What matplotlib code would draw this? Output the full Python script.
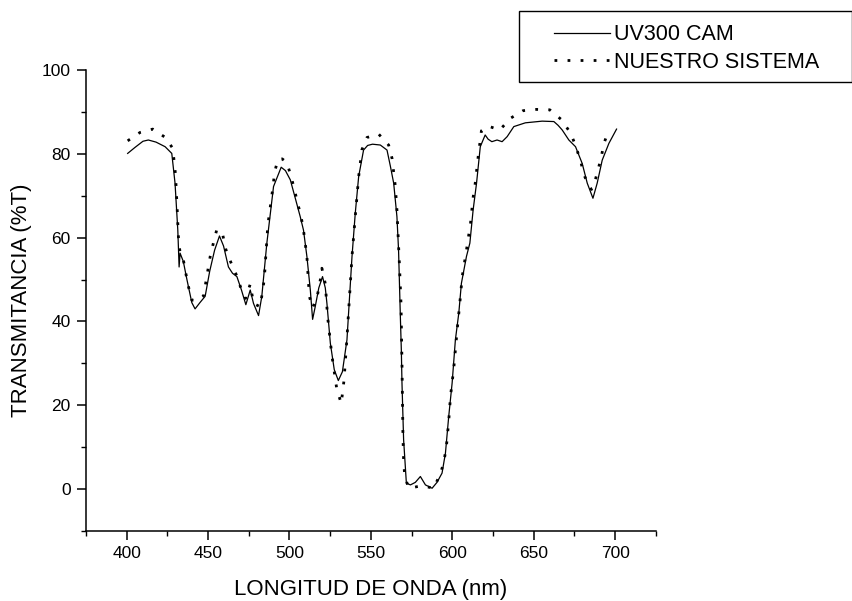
"""Transmittance spectrum: commercial UV300 vs. our system."""

import matplotlib
matplotlib.use("Agg")
import matplotlib.pyplot as plt
from matplotlib.patches import Rectangle
from matplotlib.ticker import MultipleLocator

plt.rcParams["font.family"] = ["Liberation Sans", "DejaVu Sans"]

# UV300 CAM reference curve (wavelength nm, %T)
uv300_nm = [
    400.6, 405, 410, 413.3, 418, 423.6, 427.7, 429.7, 431.4, 432.2, 432.8,
    434.8, 437, 440, 442, 445, 448.2, 451, 454, 457, 459.5, 462.5, 465,
    467.7, 470.5, 473.2, 475.9, 477.9, 481, 483, 486.1, 490.2, 494.9, 497.5,
    500.5, 503.5, 506.6, 508.6, 510.7, 512.8, 514.2, 515.8, 518, 520.3, 522,
    523, 525.1, 527.5, 530, 532.5, 535.3, 538.4, 540.4, 542.5, 545.5, 548,
    551, 555.8, 559.9, 562, 564, 566, 567, 568.1, 568.7, 569.1, 570.1, 571.8,
    574.3, 577.3, 580.4, 583.5, 587.6, 590.6, 593.7, 595.8, 597.8, 599.9,
    601.9, 604, 605.6, 608.7, 610.8, 612.8, 614.9, 617.2, 620.2, 622, 624.3,
    627.5, 630.6, 633.7, 637.8, 644.9, 655.2, 662.4, 665, 667.5, 671.6,
    675.7, 679.8, 682.9, 686.4, 689, 692.1, 696.2, 700.9,
]
uv300_t = [
    80.1, 81.5, 83.0, 83.3, 82.8, 81.7, 80.1, 73, 61.8, 53, 56.3,
    54.3, 50, 44.5, 43, 44.5, 46, 52, 57, 60.4, 58, 53, 51.5,
    50.7, 47.5, 44, 47.5, 44.3, 41.4, 46, 58.7, 72.2, 76.8, 76,
    73.8, 69.5, 65, 61.8, 55.5, 47.5, 40.5, 43.5, 48, 50.7, 48,
    44.3, 34.8, 28.5, 25.9, 28, 35.6, 55.5, 65.8, 74.6, 80.9, 82,
    82.3, 82.1, 80.9, 77, 73, 65, 57, 41.2, 33.2, 25.3, 11.8, 1.4,
    1.0, 1.6, 3.0, 1.0, 0.2, 1.6, 3.8, 8.6, 17.3, 25.3,
    35.6, 42, 49.1, 55.5, 58.7, 66.6, 73, 81.7, 84.5, 83.5, 82.9,
    83.3, 82.9, 84.1, 86.5, 87.4, 87.8, 87.7, 86.8, 85.7, 83.3,
    81.7, 77.7, 73, 69.4, 73, 78.5, 82.5, 85.9,
]

# NUESTRO SISTEMA measurement (wavelength nm, %T)
ours_nm = [
    400.6, 408.2, 416, 423.8, 428.3, 430, 431, 431.8, 432.8, 435, 437.5,
    440, 443.5, 447.2, 451.3, 453.3, 455.4, 459.1, 460.9, 464, 467.7, 470.3,
    473, 475.9, 477.9, 482, 484.5, 486.7, 490, 490.8, 492.9, 495.5, 498.4,
    500.9, 503.1, 505, 507, 508.6, 510.7, 512.2, 514.2, 517.2, 519.3, 519.9,
    522, 523.4, 526, 529, 531.8, 533.5, 535.3, 538.4, 540.4, 542.5, 544.5,
    547.6, 554.8, 560.9, 563, 565, 566, 567.5, 568.5, 569.1, 569.7, 570.1,
    570.8, 573.3, 581.4, 588.6, 592.6, 594.7, 596.4, 597.8, 598.9, 600.9,
    603, 604.6, 606.1, 608.7, 611.2, 612.8, 614.1, 615.9, 617.9, 622.1,
    629.2, 635.8, 643.5, 651.7, 659.9, 666.9, 672.6, 675.8, 679, 680.9,
    683.6, 685.5, 687.3, 689.4, 691.5, 693.1, 696.1,
]
ours_t = [
    83.1, 85.1, 85.9, 83.9, 81.3, 75, 67, 60, 56.3, 54.3, 49,
    45.1, 45, 46.1, 55.5, 58.8, 62, 60.5, 57.2, 54.1, 50.8, 47.8,
    45.5, 48.9, 44.3, 43.5, 50, 63, 72.5, 75.5, 78.7, 78.8, 77.9,
    74.7, 71.4, 68.2, 65.3, 61.8, 55.5, 46, 43.2, 46.3, 50.7, 52.7,
    49, 41.2, 32, 24, 20.4, 26, 36, 55.5, 65, 74.6, 81,
    83.9, 84.7, 82.1, 78.9, 72.3, 66.6, 53.9, 44.3, 30, 12.5, 7,
    3.0, 0.2, 0.8, 0.2, 3.6, 6.2, 10.2, 16.2, 22.1, 28.8,
    38, 44.3, 50.7, 57, 63.4, 69.6, 73, 79.3, 85.5, 86.6,
    85.7, 88.5, 90.3, 90.6, 90.5, 88.2, 85.0, 81.9, 78, 75,
    72.6, 71.5, 73, 76, 79.2, 82.4, 85.7,
]

fig = plt.figure(figsize=(8.53, 6.01), dpi=100)
ax = fig.add_axes([0.1008, 0.1165, 0.668, 0.767])

ax.plot(uv300_nm, uv300_t, color="black", lw=0.9, label="UV300 CAM")
ax.plot(ours_nm, ours_t, color="black", lw=2.0, ls=(0, (1, 3.7)),
        label="NUESTRO SISTEMA")

ax.set_xlim(375, 725)
ax.set_ylim(-10, 100)
ax.xaxis.set_major_locator(MultipleLocator(50))
ax.xaxis.set_minor_locator(MultipleLocator(25))
ax.yaxis.set_minor_locator(MultipleLocator(10))
ax.set_yticks([0, 20, 40, 60, 80, 100])
ax.tick_params(which="major", direction="out", length=6.5, width=1.1,
               labelsize=12.5, pad=4.5)
ax.tick_params(which="minor", direction="out", length=3.5, width=1.0)
ax.spines["top"].set_visible(False)
ax.spines["right"].set_visible(False)
for side in ("left", "bottom"):
    ax.spines[side].set_linewidth(1.1)

ax.set_xlabel("LONGITUD DE ONDA (nm)", fontsize=16, labelpad=13)
ax.set_ylabel("TRANSMITANCIA (%T)", fontsize=16, labelpad=7)

# legend box sits in the top-right corner, partly outside the axes
fig.patches.append(Rectangle((519 / 853, 1 - 82 / 601), 333 / 853, 71 / 601,
                             transform=fig.transFigure, fill=False,
                             edgecolor="black", lw=1.0))
fig.legend(loc="center left", bbox_to_anchor=(543 / 853, 1 - 48.5 / 601),
           frameon=False, fontsize=15.5, handlelength=2.6,
           handletextpad=0.2, labelspacing=0.3, borderpad=0)

fig.savefig("out.png", dpi=100)
